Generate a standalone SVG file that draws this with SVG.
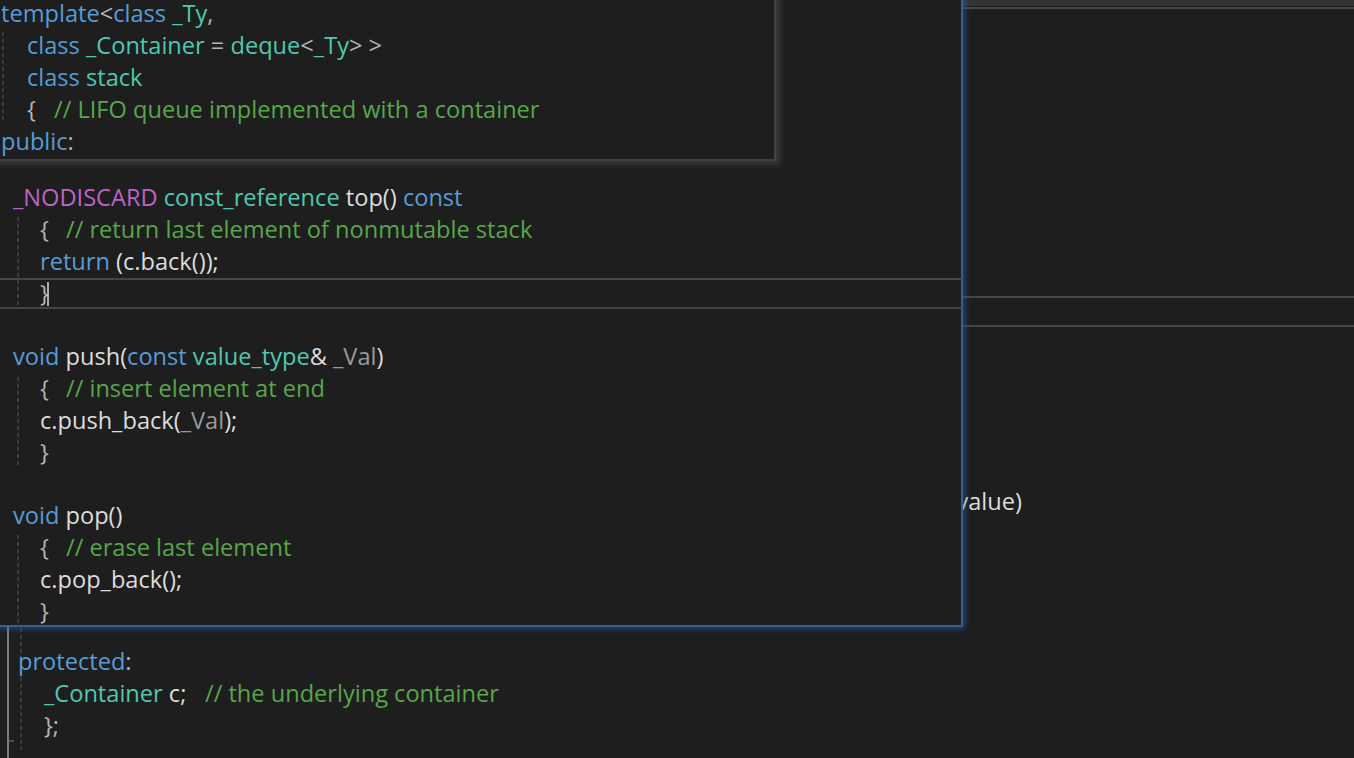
<svg xmlns="http://www.w3.org/2000/svg" width="1354" height="758" viewBox="0 0 1354 758">
<defs>
<style>
text{font-family:"Open Sans","Noto Sans","DejaVu Sans",sans-serif;font-size:23.6px;fill:#dcdcdc;white-space:pre}
.kw{fill:#569cd6}
.ty{fill:#4ec9b0}
.cm{fill:#57a64a}
.op{fill:#b4b4b4}
.id{fill:#dcdcdc}
.mc{fill:#bd63c5}
.pa{fill:#9a9a9a}
.guide{stroke:#5a5a5a;stroke-width:1;stroke-dasharray:4 3;fill:none}
.hl{stroke:#464646;stroke-width:2;fill:none}
</style>
<filter id="blueGlow" x="-5%" y="-5%" width="110%" height="110%">
<feGaussianBlur stdDeviation="3"/>
</filter>
<filter id="grayGlow" x="-5%" y="-5%" width="110%" height="115%">
<feGaussianBlur stdDeviation="3"/>
</filter>
</defs>
<rect x="0" y="0" width="1354" height="758" fill="#1e1e1e"/>
<g id="editor-right">
<rect x="962" y="0" width="392" height="6" fill="#333337"/>
<line class="hl" x1="962" y1="8" x2="1354" y2="8"/>
<line class="hl" x1="962" y1="297" x2="1354" y2="297"/>
<line class="hl" x1="962" y1="326" x2="1354" y2="326"/>
<text x="1022" y="510" class="id" text-anchor="end">value)</text>
</g>
<g id="editor-lower">
<line x1="8" y1="627" x2="8" y2="758" stroke="#7a7a7a" stroke-width="2"/>
<line x1="8" y1="741" x2="14" y2="741" stroke="#7a7a7a" stroke-width="1"/>
<line class="guide" x1="21" y1="628" x2="21" y2="750"/>
<text x="18" y="670"><tspan class="kw">protected</tspan><tspan class="op">:</tspan></text>
<text x="44" y="702"><tspan class="ty">_Container</tspan><tspan class="id"> c;</tspan><tspan class="cm" x="205">// the underlying container</tspan></text>
<text x="44" y="734" class="op">};</text>
</g>
<g id="peek-panel">
<rect x="-10" y="-10" width="972" height="636" fill="none" stroke="#2f6bb0" stroke-width="4" opacity="0.8" filter="url(#blueGlow)"/>
<rect x="0" y="0" width="962" height="626" fill="#1e1e1e"/>
<line x1="962" y1="0" x2="962" y2="627" stroke="#2f5f96" stroke-width="2"/>
<line x1="0" y1="626" x2="963" y2="626" stroke="#2f5f96" stroke-width="2"/>
<line class="hl" x1="0" y1="279" x2="962" y2="279"/>
<line class="hl" x1="0" y1="308" x2="962" y2="308"/>
<line class="guide" x1="18" y1="217" x2="18" y2="307"/>
<line class="guide" x1="18" y1="377" x2="18" y2="467"/>
<line class="guide" x1="18" y1="535" x2="18" y2="624"/>
<text x="13" y="206"><tspan class="mc">_NODISCARD</tspan> <tspan class="ty">const_reference</tspan> <tspan class="id">top()</tspan> <tspan class="kw">const</tspan></text>
<text x="40" y="238"><tspan class="op">{</tspan><tspan class="cm" x="66">// return last element of nonmutable stack</tspan></text>
<text x="40" y="270"><tspan class="kw">return</tspan><tspan class="id"> (c.back());</tspan></text>
<text x="40" y="302" class="op">}</text>
<line x1="48" y1="282" x2="48" y2="306" stroke="#dcdcdc" stroke-width="1.5"/>
<text x="13" y="365"><tspan class="kw">void</tspan> <tspan class="id">push(</tspan><tspan class="kw">const</tspan> <tspan class="ty">value_type</tspan><tspan class="id">&amp; </tspan><tspan class="pa">_Val</tspan><tspan class="id">)</tspan></text>
<text x="40" y="397"><tspan class="op">{</tspan><tspan class="cm" x="66">// insert element at end</tspan></text>
<text x="40" y="429"><tspan class="id">c.push_back(</tspan><tspan class="pa">_Val</tspan><tspan class="id">);</tspan></text>
<text x="40" y="461" class="op">}</text>
<text x="13" y="524"><tspan class="kw">void</tspan> <tspan class="id">pop()</tspan></text>
<text x="40" y="556"><tspan class="op">{</tspan><tspan class="cm" x="66">// erase last element</tspan></text>
<text x="40" y="588" class="id">c.pop_back();</text>
<text x="40" y="620" class="op">}</text>
</g>
<g id="tooltip">
<rect x="-6" y="-6" width="786" height="170" fill="#3a3a3a" filter="url(#grayGlow)"/>
<rect x="-1" y="-1" width="776" height="161" fill="#1e1e1e" stroke="#4a4a4a" stroke-width="1.5"/>
<line class="guide" x1="3" y1="32" x2="3" y2="123"/>
<text x="1" y="22"><tspan class="kw">template</tspan><tspan class="op">&lt;</tspan><tspan class="kw">class</tspan> <tspan class="ty">_Ty</tspan><tspan class="op">,</tspan></text>
<text x="27" y="54"><tspan class="kw">class</tspan> <tspan class="ty">_Container</tspan><tspan class="op"> = </tspan><tspan class="ty">deque</tspan><tspan class="op">&lt;</tspan><tspan class="ty">_Ty</tspan><tspan class="op">&gt; &gt;</tspan></text>
<text x="27" y="86"><tspan class="kw">class</tspan> <tspan class="ty">stack</tspan></text>
<text x="27" y="118"><tspan class="op">{</tspan><tspan class="cm" x="54">// LIFO queue implemented with a container</tspan></text>
<text x="1" y="150"><tspan class="kw">public</tspan><tspan class="op">:</tspan></text>
</g>
</svg>
